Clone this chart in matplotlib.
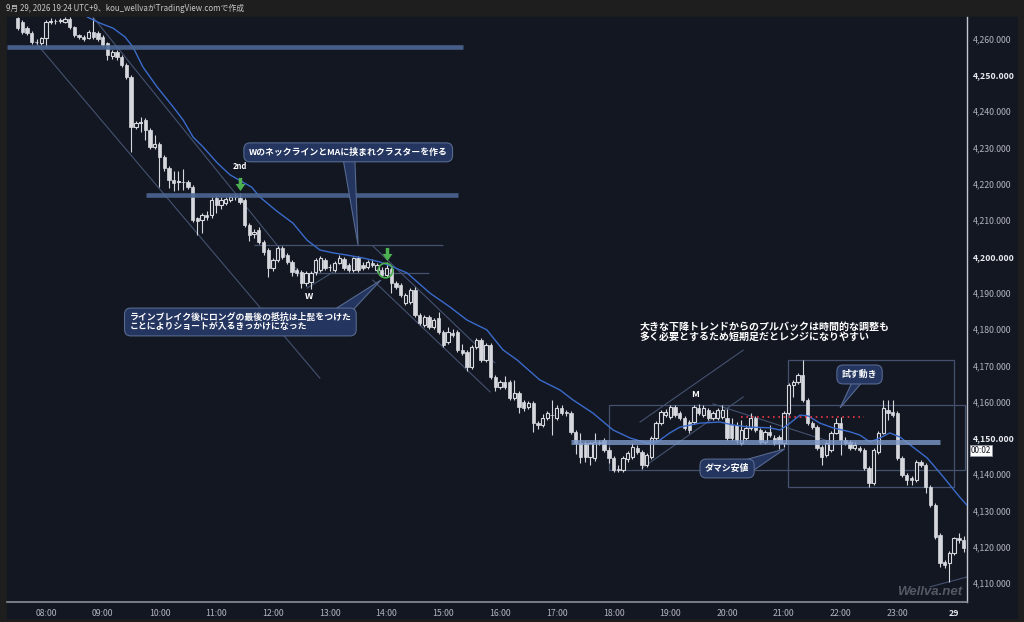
import numpy as np
import matplotlib
matplotlib.use('Agg')
import matplotlib.pyplot as plt
import pandas as pd
from matplotlib.patches import Rectangle, Polygon
from matplotlib.path import Path
from matplotlib.transforms import blended_transform_factory

plt.rcParams['font.family'] = ['Noto Sans CJK JP', 'DejaVu Sans']

# ==========================
# 5分足 OHLC (07:30 〜 00:10)
# ==========================
opens = [
    4265.7, 4264.6, 4262.9, 4261.6, 4259.2, 4258.8, 4260.2, 4264.6, 4264.9, 4264.8,
    4264.6, 4265.4, 4263.2, 4261.0, 4260.5, 4260.3, 4261.8, 4261.6, 4260.5, 4258.8,
    4255.2, 4256.3, 4254.9, 4252.8, 4249.4, 4235.7, 4236.8, 4237.6, 4234.9, 4230.2,
    4231.0, 4227.4, 4224.4, 4221.1, 4220.6, 4220.6, 4220.5, 4219.2, 4210.6, 4210.1,
    4211.4, 4211.4, 4216.1, 4214.2, 4214.8, 4215.6, 4216.4, 4216.1, 4215.6, 4208.7,
    4206.2, 4207.3, 4204.0, 4201.8, 4196.8, 4199.0, 4202.4, 4200.4, 4198.5, 4196.3,
    4195.7, 4192.7, 4193.0, 4195.7, 4196.3, 4199.0, 4197.0, 4196.3, 4198.2, 4199.3,
    4197.7, 4196.3, 4199.6, 4197.7, 4197.1, 4198.2, 4196.3, 4196.3, 4194.9, 4196.5,
    4192.7, 4192.1, 4187.2, 4187.5, 4190.8, 4183.9, 4181.1, 4183.3, 4180.6, 4183.1,
    4179.2, 4176.5, 4178.9, 4179.2, 4174.3, 4173.7, 4169.6, 4175.1, 4177.0, 4171.5,
    4175.7, 4166.8, 4164.1, 4165.4, 4165.4, 4161.0, 4162.4, 4159.9, 4158.5, 4159.6,
    4154.1, 4153.6, 4155.5, 4156.4, 4155.5, 4158.3, 4157.2, 4156.9, 4151.6, 4148.6,
    4148.6, 4144.8, 4144.5, 4148.9, 4149.5, 4146.7, 4144.5, 4141.5, 4141.2, 4144.2,
    4144.8, 4147.2, 4146.1, 4142.6, 4144.8, 4150.0, 4154.1, 4156.3, 4155.8, 4158.5,
    4156.9, 4155.5, 4154.4, 4154.4, 4158.3, 4156.3, 4157.7, 4155.5, 4155.5, 4155.8,
    4155.5, 4153.6, 4153.6, 4148.6, 4150.0, 4152.8, 4155.5, 4152.2, 4148.9, 4151.6,
    4150.0, 4150.3, 4148.6, 4156.9, 4164.6, 4165.4, 4167.4, 4160.5, 4154.1, 4153.0,
    4147.5, 4145.3, 4146.7, 4151.4, 4154.1, 4149.5, 4148.9, 4147.2, 4147.2, 4146.7,
    4141.7, 4137.6, 4146.1, 4151.4, 4157.7, 4157.2, 4156.9, 4144.5, 4139.8, 4138.9,
    4138.4, 4143.4, 4142.6, 4136.5, 4131.6, 4123.3, 4115.8, 4115.6, 4118.3, 4122.5,
    4121.9]

highs = [
    4266.0, 4265.2, 4263.4, 4262.0, 4259.8, 4260.6, 4265.2, 4265.6, 4265.5, 4265.8,
    4266.0, 4265.9, 4263.6, 4261.4, 4260.9, 4262.3, 4265.7, 4262.0, 4260.9, 4259.2,
    4256.8, 4256.9, 4255.4, 4253.2, 4249.9, 4237.3, 4238.4, 4238.2, 4235.4, 4233.5,
    4231.5, 4227.9, 4224.9, 4223.5, 4223.5, 4224.0, 4221.0, 4219.6, 4211.0, 4212.0,
    4212.5, 4216.3, 4216.7, 4216.5, 4216.5, 4217.0, 4217.2, 4217.5, 4216.1, 4209.2,
    4207.5, 4208.0, 4204.5, 4202.3, 4199.5, 4202.9, 4203.0, 4201.0, 4199.0, 4196.8,
    4196.3, 4196.0, 4196.0, 4199.6, 4200.2, 4199.6, 4197.8, 4198.8, 4200.3, 4199.9,
    4198.3, 4200.0, 4200.1, 4198.5, 4199.0, 4199.3, 4198.3, 4197.0, 4198.5, 4197.0,
    4193.2, 4192.6, 4190.0, 4191.3, 4191.5, 4184.4, 4183.8, 4183.8, 4183.0, 4184.7,
    4179.7, 4180.5, 4180.0, 4179.8, 4176.0, 4174.2, 4175.6, 4177.5, 4177.6, 4176.2,
    4176.2, 4167.3, 4166.0, 4167.0, 4166.0, 4166.0, 4163.0, 4160.5, 4160.2, 4160.1,
    4154.6, 4156.5, 4157.5, 4160.5, 4159.0, 4159.0, 4157.8, 4157.4, 4152.1, 4151.4,
    4149.2, 4149.2, 4151.5, 4149.5, 4150.0, 4147.5, 4145.0, 4142.5, 4145.0, 4146.5,
    4148.5, 4148.0, 4146.6, 4145.8, 4150.6, 4154.6, 4157.8, 4158.0, 4159.2, 4159.2,
    4157.5, 4156.0, 4155.0, 4159.0, 4159.5, 4159.0, 4158.3, 4157.5, 4158.3, 4159.1,
    4158.0, 4155.5, 4154.5, 4155.0, 4153.5, 4157.0, 4156.0, 4152.7, 4152.1, 4153.5,
    4150.8, 4150.8, 4157.4, 4165.1, 4166.0, 4168.0, 4171.5, 4161.0, 4154.6, 4153.5,
    4148.0, 4149.1, 4151.9, 4155.5, 4155.8, 4150.3, 4149.5, 4148.8, 4147.8, 4147.2,
    4142.2, 4147.2, 4151.9, 4160.5, 4160.5, 4160.5, 4157.4, 4145.0, 4140.3, 4139.5,
    4143.9, 4144.0, 4143.1, 4137.0, 4132.1, 4123.8, 4116.4, 4118.8, 4122.7, 4123.8,
    4123.0]

lows = [
    4262.3, 4261.2, 4261.0, 4258.6, 4258.5, 4258.4, 4257.7, 4264.0, 4264.1, 4264.3,
    4264.2, 4262.8, 4260.5, 4260.0, 4259.4, 4259.8, 4260.0, 4259.3, 4257.7, 4254.1,
    4254.4, 4254.2, 4252.2, 4249.0, 4228.8, 4235.0, 4234.3, 4232.1, 4229.6, 4229.5,
    4219.2, 4223.5, 4219.0, 4218.0, 4218.3, 4218.3, 4218.6, 4209.5, 4206.0, 4206.4,
    4210.0, 4210.5, 4212.0, 4213.0, 4214.2, 4215.0, 4215.6, 4214.5, 4208.2, 4204.3,
    4205.0, 4203.5, 4200.5, 4194.3, 4196.0, 4198.5, 4199.4, 4198.0, 4194.5, 4194.5,
    4191.3, 4192.0, 4191.0, 4195.0, 4195.8, 4196.3, 4196.0, 4195.8, 4197.8, 4196.3,
    4195.8, 4195.8, 4195.8, 4196.3, 4196.6, 4197.2, 4195.8, 4194.3, 4194.3, 4190.0,
    4191.0, 4188.9, 4186.7, 4187.0, 4183.4, 4181.0, 4180.6, 4180.0, 4180.0, 4178.7,
    4175.0, 4176.0, 4177.8, 4173.8, 4172.8, 4168.5, 4169.0, 4174.6, 4171.0, 4171.0,
    4166.3, 4163.0, 4163.5, 4163.5, 4160.5, 4160.5, 4156.9, 4157.5, 4158.0, 4151.6,
    4152.5, 4153.0, 4155.0, 4150.8, 4155.0, 4156.4, 4156.0, 4151.0, 4145.5, 4143.1,
    4143.5, 4142.5, 4143.8, 4148.0, 4146.2, 4143.1, 4140.5, 4140.6, 4140.6, 4143.5,
    4144.2, 4145.6, 4141.5, 4142.0, 4144.3, 4149.5, 4153.6, 4155.8, 4155.3, 4155.8,
    4155.0, 4152.2, 4151.5, 4153.8, 4156.4, 4155.8, 4155.0, 4155.0, 4155.0, 4155.3,
    4149.5, 4149.5, 4148.5, 4148.0, 4149.5, 4152.3, 4151.7, 4148.4, 4148.4, 4150.3,
    4148.1, 4147.0, 4147.5, 4156.4, 4161.3, 4164.9, 4160.0, 4153.6, 4152.5, 4146.7,
    4142.6, 4144.8, 4146.2, 4151.0, 4145.3, 4148.0, 4146.7, 4146.7, 4146.2, 4141.2,
    4136.5, 4137.1, 4145.6, 4151.0, 4155.0, 4155.8, 4144.0, 4139.3, 4137.0, 4137.0,
    4137.9, 4142.0, 4134.8, 4131.1, 4122.2, 4114.5, 4114.2, 4110.3, 4117.8, 4121.0,
    4118.5]

closes = [
    4262.9, 4261.8, 4261.6, 4259.1, 4259.0, 4260.2, 4264.6, 4264.9, 4264.8, 4265.2,
    4265.4, 4263.2, 4261.0, 4260.5, 4259.9, 4261.8, 4260.5, 4259.9, 4258.3, 4255.5,
    4256.3, 4254.9, 4252.8, 4249.4, 4235.7, 4236.8, 4236.9, 4234.9, 4230.2, 4231.0,
    4227.4, 4224.4, 4221.1, 4220.3, 4220.8, 4220.5, 4219.2, 4210.1, 4209.8, 4211.4,
    4210.9, 4215.6, 4214.2, 4215.6, 4215.9, 4216.4, 4216.3, 4215.0, 4208.7, 4205.9,
    4206.8, 4204.0, 4201.2, 4196.8, 4199.0, 4202.4, 4199.9, 4198.5, 4195.7, 4195.4,
    4192.7, 4195.4, 4195.4, 4199.0, 4199.6, 4196.8, 4197.1, 4198.2, 4199.6, 4196.8,
    4196.3, 4199.6, 4196.3, 4196.8, 4198.5, 4197.7, 4197.7, 4194.9, 4196.8, 4192.7,
    4191.6, 4189.4, 4189.4, 4190.8, 4183.9, 4181.7, 4183.3, 4180.6, 4182.5, 4179.2,
    4175.7, 4179.2, 4178.4, 4174.3, 4173.4, 4169.6, 4175.1, 4177.0, 4171.5, 4175.7,
    4166.8, 4164.1, 4165.4, 4164.1, 4161.0, 4162.4, 4158.5, 4158.3, 4159.6, 4154.1,
    4153.6, 4155.5, 4156.9, 4156.2, 4158.3, 4156.9, 4156.9, 4151.6, 4148.6, 4144.8,
    4144.8, 4148.6, 4148.9, 4148.6, 4146.7, 4144.5, 4141.2, 4141.2, 4144.5, 4145.9,
    4147.5, 4146.1, 4142.6, 4145.3, 4150.0, 4154.1, 4157.2, 4157.2, 4158.5, 4156.3,
    4155.5, 4152.8, 4152.2, 4158.5, 4156.9, 4158.3, 4155.5, 4156.9, 4157.7, 4157.7,
    4150.0, 4150.0, 4149.5, 4152.2, 4152.8, 4155.5, 4152.2, 4148.9, 4151.6, 4150.8,
    4148.6, 4148.6, 4156.9, 4164.6, 4165.4, 4167.4, 4160.5, 4154.1, 4153.0, 4147.2,
    4144.8, 4148.6, 4151.4, 4154.1, 4149.5, 4148.6, 4147.2, 4148.2, 4146.7, 4141.7,
    4137.6, 4146.7, 4151.4, 4158.3, 4156.9, 4156.3, 4144.5, 4139.8, 4138.4, 4138.4,
    4143.4, 4142.6, 4136.5, 4131.6, 4122.7, 4115.6, 4115.0, 4118.3, 4122.5, 4121.9,
    4119.7]

# 移動平均線 (バー番号, 値) チャートから読み取り
ma_bar = [14.7, 17.4, 20.2, 22.7, 24.4, 26.5, 29.5, 32.9, 35.0, 37.1,
          39.2, 42.2, 44.9, 49.5, 51.2, 54.8, 58.2, 61.2, 63.9, 66.7,
          69.6, 73.0, 76.6, 79.4, 82.3, 87.2, 91.4, 95.0, 99.2, 102.6,
          105.6, 110.4, 114.7, 117.4, 121.6, 125.9, 129.5, 133.1, 135.2, 137.9,
          140.0, 144.3, 148.5, 151.2, 154.8, 159.1, 161.2, 163.3, 165.4, 167.1,
          169.6, 172.4, 176.0, 178.1, 180.2, 182.3, 184.4, 186.5, 189.3, 192.3,
          195.7, 199.2, 200.7]
ma_val = [4266.0, 4264.3, 4262.9, 4260.5, 4257.7, 4252.2, 4246.7, 4241.2, 4237.6, 4232.9,
          4230.2, 4225.8, 4222.5, 4219.1, 4216.4, 4212.5, 4209.2, 4204.5, 4201.8, 4201.0,
          4200.4, 4199.6, 4198.5, 4197.1, 4195.5, 4189.9, 4186.1, 4182.5, 4179.8, 4174.3,
          4171.5, 4166.0, 4163.2, 4160.5, 4156.9, 4152.2, 4150.0, 4148.6, 4148.9, 4151.4,
          4153.0, 4154.1, 4154.4, 4153.6, 4153.0, 4152.8, 4152.2, 4154.1, 4156.3, 4156.1,
          4154.1, 4152.8, 4151.7, 4150.8, 4148.9, 4150.0, 4151.4, 4150.3, 4147.5, 4144.5,
          4139.3, 4133.7, 4131.5]

price_ticks = list(range(4110, 4261, 10))

times = pd.date_range('2026-09-28 07:30', periods=len(closes), freq='5min')
hour_pos = [i for i, t in enumerate(times) if t.minute == 0]
hour_labels = ['29' if times[i].hour == 0 else times[i].strftime('%H:%M') for i in hour_pos]

# ==========================
# 色
# ==========================
BG = '#131722'
FRAME = '#1e1e1e'
CANDLE = '#d6d8de'
LINE = '#445270'
BAND = '#4c6793'
BAND2 = '#7c98c8'
GREEN = '#4caf50'
BOX_FC = '#243560'
BOX_EC = '#56698f'

fig = plt.figure(figsize=(10.24, 6.22), dpi=100, facecolor=FRAME)
fig.patches.append(Rectangle((7 / 1024, 4 / 622), 1010 / 1024, 601 / 622,
                             transform=fig.transFigure, color=BG, zorder=-10))
ax = fig.add_axes([7 / 1024, 20 / 622, 960 / 1024, 585 / 622])
ax.set_facecolor(BG)
ax.set_xlim(-2.24, 200.72)
ax.set_ylim(4104.82, 4265.98)

# ローソク足
x = np.arange(len(closes))
o = np.array(opens)
h = np.array(highs)
l = np.array(lows)
c = np.array(closes)
up = c > o
ax.vlines(x, l, h, color=CANDLE, lw=0.8, zorder=2)
bottom = np.minimum(o, c)
height = np.maximum(np.abs(c - o), 0.12)
ax.bar(x[~up], height[~up], bottom=bottom[~up], width=0.7,
       color=CANDLE, edgecolor=CANDLE, linewidth=0.5, zorder=3)
ax.bar(x[up], height[up], bottom=bottom[up], width=0.7,
       facecolor=BG, edgecolor=CANDLE, linewidth=0.8, zorder=3)

# 移動平均
ax.plot(ma_bar, ma_val, color='#3a6bcc', lw=1.0, zorder=4)

# 水平ライン (太)
ax.hlines(4257.7, -2.24, 94.2, color=BAND, lw=3.3, alpha=0.9, zorder=5)
ax.hlines(4216.9, 27.2, 93.1, color=BAND, lw=3.3, alpha=0.9, zorder=5)
ax.hlines(4148.9, 117.0, 195.0, color=BAND2, lw=3.6, alpha=0.8, zorder=5)

# 細いライン
ax.hlines(4203.2, 50.0, 89.9, color=LINE, lw=0.9, zorder=1)
ax.hlines(4195.5, 59.1, 87.0, color=LINE, lw=0.9, zorder=1)
ax.plot([3.7, 63.9], [4259.1, 4166.5], color=LINE, lw=0.8, zorder=1)
ax.plot([15.9, 59.1], [4266.0, 4196.3], color=LINE, lw=0.8, zorder=1)
ax.plot([61.2, 66.7], [4191.3, 4195.7], color=LINE, lw=0.8, zorder=1)
ax.plot([75.1, 100.9], [4202.9, 4170.7], color=LINE, lw=0.8, zorder=1)
ax.plot([75.1, 99.9], [4193.5, 4162.7], color=LINE, lw=0.8, zorder=1)
ax.plot([131.6, 153.4], [4154.4, 4174.2], color=LINE, lw=0.8, zorder=1)
ax.plot([132.0, 153.4], [4141.7, 4161.3], color=LINE, lw=0.8, zorder=1)
ax.plot([147.0, 171.3], [4159.4, 4149.2], color=LINE, lw=0.8, zorder=1)
ax.plot([192.9, 200.7], [4109.0, 4111.7], color=LINE, lw=0.8, zorder=1)

# レンジ枠
ax.add_patch(Rectangle((125.0, 4141.2), 200.3 - 125.0, 4159.1 - 4141.2,
                       fill=False, ec=LINE, lw=0.9, zorder=1))
ax.add_patch(Rectangle((162.9, 4136.5), 197.97 - 162.9, 4171.5 - 4136.5,
                       fill=False, ec=LINE, lw=0.9, zorder=1))

# 赤点線
ax.hlines(4155.8, 152.9, 178.9, color='#f23645', lw=1.2, linestyles=(0, (1, 2.2)), zorder=5)

# 緑矢印・丸
arrow = Path([(-0.16, 0.6), (0.16, 0.6), (0.16, 0.05), (0.45, 0.05), (0.0, -0.6),
              (-0.45, 0.05), (-0.16, 0.05), (-0.16, 0.6)])
ax.plot([47.0, 78.1], [4220.1, 4200.8], ls='none', marker=arrow, ms=9.5,
        color=GREEN, mec=GREEN, mew=0, zorder=7)
ax.plot(77.7, 4196.3, marker='o', ms=10.5, mfc='none', mec=GREEN, mew=1.2, zorder=7)

# ラベル
ax.text(47.0, 4224.7, '2nd', color='white', fontsize=5.5, weight='bold',
        ha='center', va='center', zorder=8)
ax.text(61.6, 4189.1, 'W', color='white', fontsize=6.5, weight='bold',
        ha='center', va='center', zorder=8)
ax.text(143.2, 4162.1, 'M', color='white', fontsize=6.5, weight='bold',
        ha='center', va='center', zorder=8)


def callout(x0, y0, text, tail, fs=6.4, pad=0.55, ls=1.0):
    ax.add_patch(Polygon(tail, closed=True, fc=BOX_FC, ec=BOX_EC, lw=0.8, zorder=8))
    ax.text(x0, y0, text, color='white', fontsize=fs, weight='bold',
            ha='center', va='center', multialignment='left', linespacing=ls, zorder=9,
            bbox=dict(boxstyle=f'round,pad={pad},rounding_size=0.7',
                      fc=BOX_FC, ec=BOX_EC, lw=0.8))


callout(69.9, 4228.7, 'WのネックラインとMAに挟まれクラスターを作る',
        [(68.8, 4227.0), (71.3, 4227.0), (71.97, 4203.2)])
callout(47.1, 4181.96, 'ラインブレイク後にロングの最後の抵抗は上髭をつけた\nことによりショートが入るきっかけになった',
        [(66.5, 4185.0), (70.7, 4185.0), (76.8, 4193.5)])
callout(150.0, 4141.6, 'ダマシ安値',
        [(152.5, 4143.5), (155.5, 4141.0), (162.2, 4147.0)])
callout(178.0, 4167.5, '試す動き',
        [(176.4, 4165.3), (178.5, 4165.3), (173.9, 4158.3)])

ax.text(131.4, 4181.9, '大きな下降トレンドからのプルバックは時間的な調整も\n多く必要とするため短期足だとレンジになりやすい',
        color='white', fontsize=7.2, weight='bold', ha='left', va='top',
        linespacing=0.95, zorder=9)

# ウォーターマーク
ax.text(199.7, 4107.6, 'Wellva.net', color='#555965', fontsize=9.5,
        family=['Liberation Sans'], style='italic', weight='bold',
        ha='right', va='center', zorder=6)

# 軸
for s in ['top', 'left']:
    ax.spines[s].set_visible(False)
ax.spines['right'].set_color('#c3c6ce')
ax.spines['right'].set_linewidth(1.0)
ax.spines['bottom'].set_color('#8b8e97')
ax.spines['bottom'].set_linewidth(1.2)

ax.yaxis.tick_right()
ax.set_yticks(price_ticks)
ax.set_yticklabels([f'{p:,.3f}' for p in price_ticks])
ax.tick_params(axis='y', length=0, pad=4, labelsize=6.3, labelcolor='#b2b5be')
for p, lab in zip(price_ticks, ax.get_yticklabels()):
    if p % 50 == 0:
        lab.set_fontweight('bold')
        lab.set_color('#e6e8ee')

ax.set_xticks(hour_pos)
ax.set_xticklabels(hour_labels)
ax.tick_params(axis='x', length=0, pad=5, labelsize=6.3, labelcolor='#b2b5be')
for lab in ax.get_xticklabels():
    if lab.get_text() == '29':
        lab.set_fontweight('bold')
        lab.set_color('#e6e8ee')

# 現在値ラベル (価格目盛りの少し下)
tr = blended_transform_factory(ax.transAxes, ax.transData)
ax.text(1.004, 4146.6, '00:02', transform=tr, fontsize=5.8, color='#131722',
        ha='left', va='center', clip_on=False, zorder=10,
        bbox=dict(boxstyle='square,pad=0.15', fc='white', ec='#9598a1', lw=0.6))

# ヘッダー
fig.text(6 / 1024, 1 - 8 / 622, '9月 29, 2026 19:24 UTC+9、kou_wellvaがTradingView.comで作成',
         fontsize=5.7, color='#c8c8c8', ha='left', va='center')

fig.savefig('out.png', dpi=100, facecolor=FRAME)
